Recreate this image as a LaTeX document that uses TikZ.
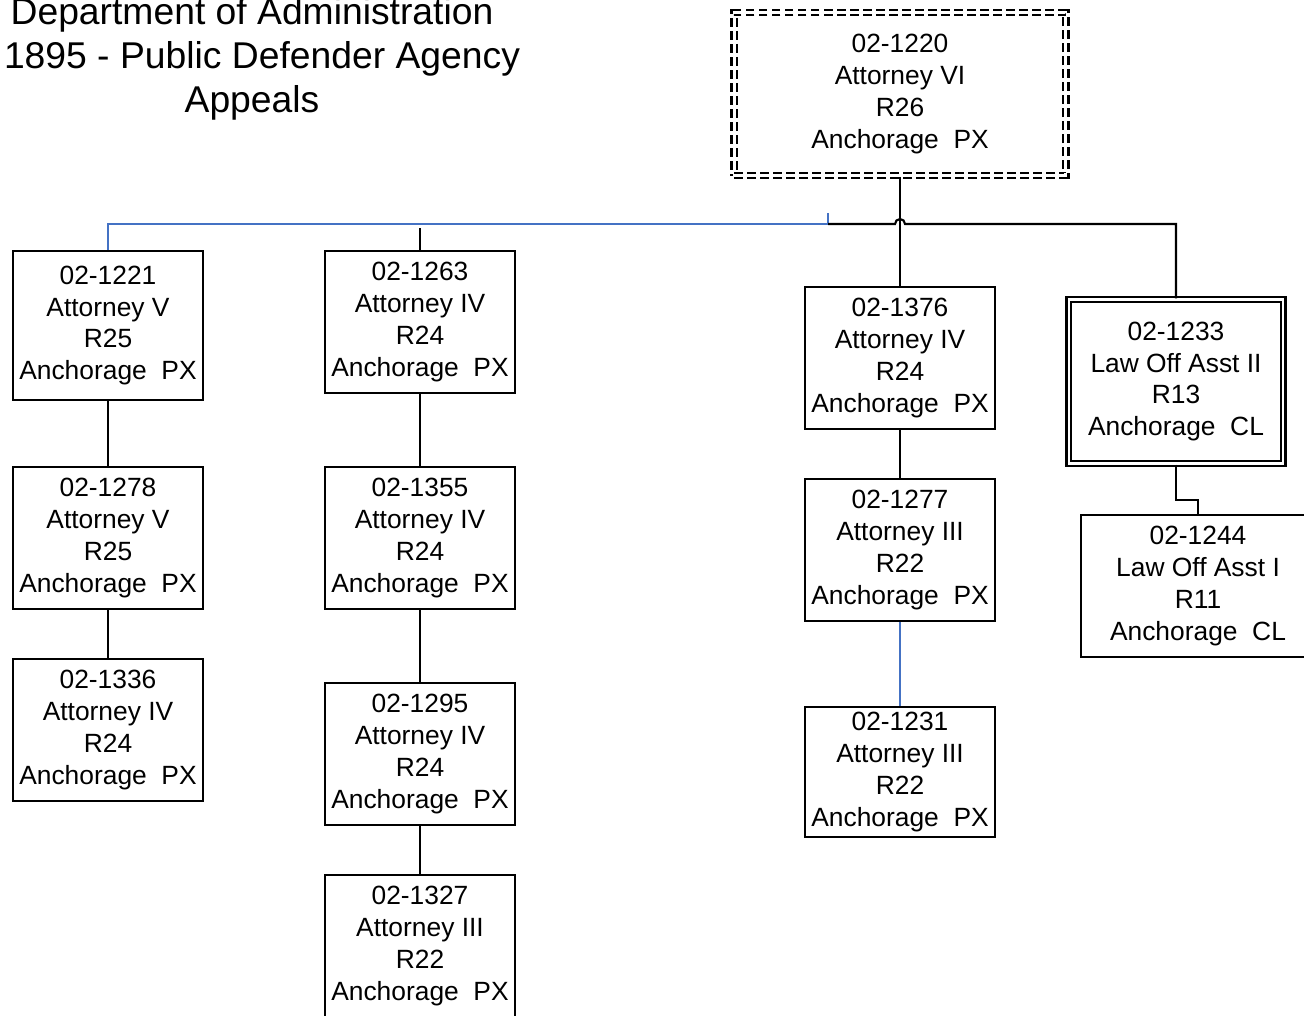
\documentclass[tikz,border=0pt]{standalone}
\usepackage{fontspec}
\setmainfont{Liberation Sans}
\usepackage{tikz}
\definecolor{linkblue}{RGB}{68,114,196}
\tikzset{
	posbox/.style={draw, line width=0.6pt, align=center, inner sep=0pt, minimum width=1.90cm, minimum height=1.42cm, font=\fontsize{7.5}{9.07}\selectfont},
	link/.style={line width=0.6pt},
}

\begin{document}
\begin{tikzpicture}[x=0.01cm, y=0.01cm]
		\useasboundingbox (0,0) rectangle (1304,-1015);
		\clip (0,0) rectangle (1304,-1015);
		
		\node[align=center, font=\fontsize{10.6}{12.6}\selectfont] (title) at (252,-59) {Department of Administration\\\hspace*{0.2cm}1895 - Public Defender Agency\\Appeals};
		
		\node[posbox, minimum width=3.315cm, minimum height=1.635cm, dashed, dash pattern=on 2.5pt off 1.2pt, double, double distance=0.9pt] (p1220) at (900,-94) {02-1220\\Attorney VI\\R26\\Anchorage\ \ PX};
		
		\node[posbox, minimum height=1.49cm] (p1221) at (108,-325.5) {02-1221\\Attorney V\\R25\\Anchorage\ \ PX};
		\node[posbox] (p1278) at (108,-538) {02-1278\\Attorney V\\R25\\Anchorage\ \ PX};
		\node[posbox] (p1336) at (108,-730) {02-1336\\Attorney IV\\R24\\Anchorage\ \ PX};
		
		\node[posbox] (p1263) at (420,-322) {02-1263\\Attorney IV\\R24\\Anchorage\ \ PX};
		\node[posbox] (p1355) at (420,-538) {02-1355\\Attorney IV\\R24\\Anchorage\ \ PX};
		\node[posbox] (p1295) at (420,-754) {02-1295\\Attorney IV\\R24\\Anchorage\ \ PX};
		\node[posbox] (p1327) at (420,-946) {02-1327\\Attorney III\\R22\\Anchorage\ \ PX};
		
		\node[posbox] (p1376) at (900,-358) {02-1376\\Attorney IV\\R24\\Anchorage\ \ PX};
		\node[posbox] (p1277) at (900,-550) {02-1277\\Attorney III\\R22\\Anchorage\ \ PX};
		\node[posbox, minimum height=1.30cm] (p1231) at (900,-772) {02-1231\\Attorney III\\R22\\Anchorage\ \ PX};
		
		\node[posbox, minimum width=2.14cm, minimum height=1.64cm, double, double distance=0.8pt] (p1233) at (1176,-381.5) {02-1233\\Law Off Asst II\\R13\\Anchorage\ \ CL};
		\node[posbox, minimum width=2.34cm] (p1244) at (1198,-586) {02-1244\\Law Off Asst I\\R11\\Anchorage\ \ CL};
		
		\coordinate (jt) at (828,-213);
		\coordinate (jn) at (828,-224);
		\coordinate (jr) at (1176,-224);
		\coordinate (t1263) at (420,-228);
		
		% top level
		\draw[link] (p1220.south) -- (p1376.north);
		\draw[link, linkblue] (jt) -- (jn) -| (p1221.north);
		\draw[link] (jn) -- (895,-224) arc (180:0:5) -- (jr) -- (p1233.north);
		\draw[link] (t1263) -- (p1263.north);
		
		\foreach \s/\t in {p1221/p1278, p1278/p1336, p1263/p1355, p1355/p1295, p1295/p1327, p1376/p1277} {
			\draw[link] (\s.south) -- (\t.north);
		}
		\draw[link, linkblue] (p1277.south) -- (p1231.north);
		\draw[link] (p1233.south) -- ++(0,-35) -| (p1244.north);
	
	\end{tikzpicture}
\end{document}
